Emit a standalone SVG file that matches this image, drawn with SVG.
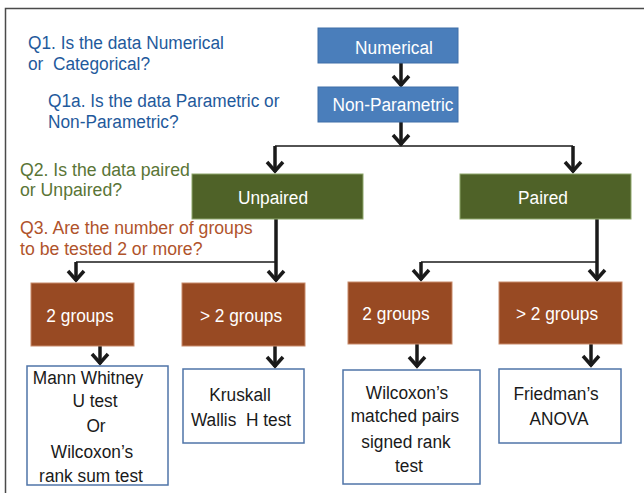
<svg xmlns="http://www.w3.org/2000/svg" width="644" height="493" viewBox="0 0 644 493">
<defs>
<style>
text{font-family:"Liberation Sans",Arial,sans-serif;font-size:19px;white-space:pre;transform-box:fill-box;transform-origin:center;transform:scaleX(0.91)}
.w{fill:#ffffff;text-anchor:middle}
.d{fill:#1a1a1a;text-anchor:middle}
.q1,.q2,.q3{transform-origin:left center}
.q2,.q3{transform:scaleX(0.93)}
.q1{fill:#1f5a9c}
.q2{fill:#5a7536}
.q3{fill:#b0532b}
.blue{fill:#4a7ebb;stroke:#3f6fa8;stroke-width:1}
.green{fill:#4f6228;stroke:#8ea66a;stroke-width:1}
.brown{fill:#984a23;stroke:#c88a6a;stroke-width:1}
.res{fill:#ffffff;stroke:#4f74a8;stroke-width:1.5}
.thick{fill:none;stroke:#1a1a1a;stroke-width:3.5}
.thin{fill:none;stroke:#1a1a1a;stroke-width:1.5}
</style>
<marker id="arr" markerWidth="18" markerHeight="20" refX="12" refY="10" orient="auto" markerUnits="userSpaceOnUse">
<path d="M2,2 L11,10 L2,18" fill="none" stroke="#1a1a1a" stroke-width="3.5"/>
</marker>
</defs>
<path d="M5.5,493 L5.5,8.5 L644,8.5" fill="none" stroke="#4a4a4a" stroke-width="1.5"/>
<g id="questions">
<text class="q1" x="28" y="49">Q1. Is the data Numerical</text>
<text class="q1" x="28" y="70">or  Categorical?</text>
<text class="q1" x="48" y="107">Q1a. Is the data Parametric or</text>
<text class="q1" x="48" y="128">Non-Parametric?</text>
<text class="q2" x="20" y="176">Q2. Is the data paired</text>
<text class="q2" x="20" y="196">or Unpaired?</text>
<text class="q3" x="20" y="234">Q3. Are the number of groups</text>
<text class="q3" x="20" y="255">to be tested 2 or more?</text>
</g>
<g id="connectors">
<path class="thick" d="M401,63 L401,86" marker-end="url(#arr)"/>
<path class="thick" d="M401,122 L401,145" marker-end="url(#arr)"/>
<path class="thin" d="M275,146 L573,146"/>
<path class="thick" d="M275,146 L275,172" marker-end="url(#arr)"/>
<path class="thick" d="M573,146 L573,172" marker-end="url(#arr)"/>
<path class="thick" d="M276,219 L276,281" marker-end="url(#arr)"/>
<path class="thin" d="M76,262 L276,262"/>
<path class="thick" d="M76,262 L76,281" marker-end="url(#arr)"/>
<path class="thick" d="M597,219 L597,280" marker-end="url(#arr)"/>
<path class="thin" d="M421,262 L597,262"/>
<path class="thick" d="M421,262 L421,280" marker-end="url(#arr)"/>
<path class="thick" d="M100,346 L100,364" marker-end="url(#arr)"/>
<path class="thick" d="M275,346 L275,367" marker-end="url(#arr)"/>
<path class="thick" d="M417,344 L417,367" marker-end="url(#arr)"/>
<path class="thick" d="M591,344 L591,366" marker-end="url(#arr)"/>
</g>
<g id="numerical">
<rect class="blue" x="318" y="28" width="140" height="35"/>
<text class="w" x="394" y="54">Numerical</text>
</g>
<g id="nonparametric">
<rect class="blue" x="318" y="87" width="140" height="35"/>
<text class="w" x="393" y="111">Non-Parametric</text>
</g>
<g id="unpaired">
<rect class="green" x="192" y="174" width="171" height="45"/>
<text class="w" x="273" y="204">Unpaired</text>
</g>
<g id="paired">
<rect class="green" x="460" y="174" width="171" height="45"/>
<text class="w" x="543" y="204">Paired</text>
</g>
<g id="unpaired-2groups">
<rect class="brown" x="31" y="283" width="103" height="63"/>
<text class="w" x="80" y="322">2 groups</text>
</g>
<g id="unpaired-gt2groups">
<rect class="brown" x="182" y="283" width="123" height="63"/>
<text class="w" x="241" y="322">&gt; 2 groups</text>
</g>
<g id="paired-2groups">
<rect class="brown" x="348" y="282" width="104" height="62"/>
<text class="w" x="396" y="320">2 groups</text>
</g>
<g id="paired-gt2groups">
<rect class="brown" x="499" y="282" width="123" height="62"/>
<text class="w" x="557" y="320">&gt; 2 groups</text>
</g>
<g id="mann-whitney">
<rect class="res" x="27" y="366" width="141" height="119"/>
<text class="d" x="88" y="384">Mann Whitney</text>
<text class="d" x="95" y="407">U test</text>
<text class="d" x="96" y="432">Or</text>
<text class="d" x="92" y="458">Wilcoxon’s</text>
<text class="d" x="91" y="482">rank sum test</text>
</g>
<g id="kruskall">
<rect class="res" x="183" y="369" width="121" height="74"/>
<text class="d" x="240" y="401">Kruskall</text>
<text class="d" x="241" y="426">Wallis  H test</text>
</g>
<g id="wilcoxon-signed">
<rect class="res" x="343" y="370" width="137" height="114"/>
<text class="d" x="407" y="399">Wilcoxon’s</text>
<text class="d" x="405" y="422">matched pairs</text>
<text class="d" x="406" y="448">signed rank</text>
<text class="d" x="409" y="472">test</text>
</g>
<g id="friedman">
<rect class="res" x="499" y="369" width="122" height="74"/>
<text class="d" x="556" y="400">Friedman’s</text>
<text class="d" x="559" y="425">ANOVA</text>
</g>
</svg>
